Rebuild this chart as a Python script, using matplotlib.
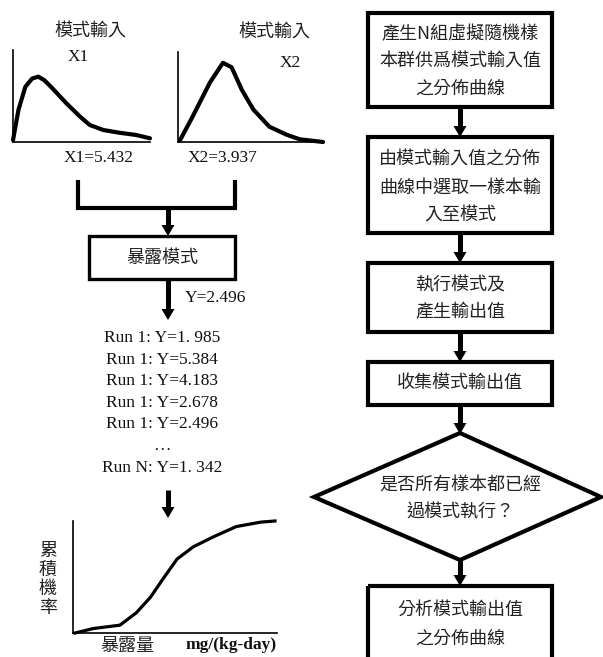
import matplotlib
matplotlib.use("Agg")
import matplotlib.pyplot as plt
from matplotlib.patches import Polygon, Rectangle

# ---------------- data ----------------
input_title = "模式輸入"
x1_label, x2_label = "X1", "X2"
x1_value_text = "X1=5.432"
x2_value_text = "X2=3.937"
model_box_text = "暴露模式"
model_output_text = "Y=2.496"
run_lines = ["Run 1: Y=1. 985", "Run 1: Y=5.384", "Run 1: Y=4.183",
             "Run 1: Y=2.678", "Run 1: Y=2.496", "…", "Run N: Y=1. 342"]
cdf_ylabel = "累積機率"
cdf_xlabel = "暴露量"
cdf_unit = "mg/(kg-day)"

# distribution curve of input X1 (normalised units)
x1_pdf_x = [0.0, 0.04, 0.09, 0.14, 0.185, 0.23, 0.29, 0.39, 0.49, 0.56, 0.66, 0.78, 0.90, 1.0]
x1_pdf_y = [0.02, 0.35, 0.60, 0.69, 0.71, 0.67, 0.58, 0.42, 0.275, 0.185, 0.13, 0.10, 0.076, 0.04]
# distribution curve of input X2
x2_pdf_x = [0.014, 0.10, 0.22, 0.31, 0.37, 0.44, 0.52, 0.63, 0.75, 0.84, 1.0]
x2_pdf_y = [0.02, 0.28, 0.66, 0.88, 0.83, 0.58, 0.36, 0.17, 0.08, 0.03, 0.0]
# cumulative distribution of output
cdf_x = [0.01, 0.10, 0.23, 0.31, 0.38, 0.44, 0.51, 0.59, 0.69, 0.80, 0.92, 0.99]
cdf_y = [0.0, 0.04, 0.07, 0.18, 0.32, 0.48, 0.66, 0.77, 0.86, 0.95, 0.99, 1.0]

flow_steps = [
    ["產生N組虛擬隨機樣", "本群供爲模式輸入值", "之分佈曲線"],
    ["由模式輸入值之分佈", "曲線中選取一樣本輸", "入至模式"],
    ["執行模式及", "產生輸出值"],
    ["收集模式輸出值"],
]
decision_text = ["是否所有樣本都已經", "過模式執行？"]
final_step = ["分析模式輸出值", "之分佈曲線"]

# ---------------- figure ----------------
W, H = 603, 657
fig = plt.figure(figsize=(W / 100, H / 100), dpi=100)
ax = fig.add_axes([0, 0, 1, 1])
ax.set_xlim(0, W)
ax.set_ylim(H, 0)
ax.axis("off")

CJK = ["Noto Sans CJK TC", "DejaVu Sans"]
SERIF = ["Liberation Serif", "DejaVu Serif"]
FS = 12.5
FS_CJK = 13


def cjk(x, y, s, size=FS_CJK):
    ax.text(x, y, s, ha="center", va="center", fontsize=size, family=CJK, color="#222")


def serif(x, y, s, size=FS, weight="normal"):
    ax.text(x, y, s, ha="center", va="center", fontsize=size, family=SERIF,
            color="#111", weight=weight)


def arrow_down(x, y0, y1, lw=3.6, hw=6.5, hl=11):
    ax.plot([x, x], [y0, y1 - hl + 1], color="k", lw=lw, solid_capstyle="butt")
    ax.add_patch(Polygon([[x - hw, y1 - hl], [x + hw, y1 - hl], [x, y1]],
                         closed=True, color="k", lw=0))


def box(x0, y0, x1, y1, lw=3.0):
    ax.add_patch(Rectangle((x0, y0), x1 - x0, y1 - y0, fill=False,
                           edgecolor="k", lw=lw, joinstyle="miter"))


def mini_axes(x0, y_top, x1, y_bot):
    a = fig.add_axes([x0 / W, (H - y_bot) / H, (x1 - x0) / W, (y_bot - y_top) / H])
    a.set_xlim(0, 1)
    a.set_ylim(0, 1)
    a.patch.set_alpha(0)
    for s in ("top", "right"):
        a.spines[s].set_visible(False)
    for s in ("left", "bottom"):
        a.spines[s].set_linewidth(1.2)
    a.set_xticks([])
    a.set_yticks([])
    return a


# ---------------- left panel ----------------
cjk(90, 32, input_title)
cjk(274, 33, input_title)

a1 = mini_axes(13, 50, 150, 142)
a1.plot(x1_pdf_x, x1_pdf_y, color="k", lw=3.0, clip_on=False, solid_joinstyle="round",
        solid_capstyle="round")
a2 = mini_axes(178, 52, 323, 142)
a2.plot(x2_pdf_x, x2_pdf_y, color="k", lw=3.0, clip_on=False, solid_joinstyle="round",
        solid_capstyle="round")
serif(78, 57, x1_label)
serif(290, 63, x2_label)
serif(99, 158, x1_value_text)
serif(223, 158, x2_value_text)

# bracket
ax.plot([78, 78, 235, 235], [180, 208, 208, 180], color="k", lw=3.0,
        solid_joinstyle="miter", solid_capstyle="butt")
arrow_down(168, 208, 236)

box(89, 236, 235, 279, lw=2.4)
cjk(162, 258, model_box_text)
arrow_down(168, 279, 320)
serif(215, 298, model_output_text)

run_y = [338, 360, 381, 403, 424, 446, 468]
for yy, s in zip(run_y, run_lines):
    serif(162, yy, s)

arrow_down(168, 490, 518)

a3 = mini_axes(73, 521, 277, 633)
a3.plot(cdf_x, cdf_y, color="k", lw=2.3, clip_on=False, solid_joinstyle="round")
for i, ch in enumerate(cdf_ylabel):
    cjk(48, 551 + i * 19, ch)
cjk(127, 646, cdf_xlabel)
serif(231, 645, cdf_unit, weight="bold")

# ---------------- right panel (flow chart) ----------------
XC = 460
BX0, BX1 = 368, 552
boxes_y = [(13, 107), (137, 233), (263, 332), (362, 405)]
text_y = [[34, 62, 89], [160, 188, 216], [285, 312], [383]]
for (y0, y1), lines, tys in zip(boxes_y, flow_steps, text_y):
    box(BX0, y0, BX1, y1)
    for s, ty in zip(lines, tys):
        cjk(XC, ty, s)

arrow_down(XC, 107, 137)
arrow_down(XC, 233, 263)
arrow_down(XC, 332, 362)
arrow_down(XC, 405, 434)

ax.add_patch(Polygon([[XC, 433], [601, 497], [XC, 560], [314, 497]], closed=True,
                     fill=False, edgecolor="k", lw=3.0, joinstyle="miter"))
cjk(XC, 485, decision_text[0])
cjk(XC, 512, decision_text[1])

arrow_down(XC, 560, 586)
box(BX0, 586, BX1, 662)
cjk(XC, 610, final_step[0])
cjk(XC, 639, final_step[1])

fig.savefig("out.png", dpi=100)
